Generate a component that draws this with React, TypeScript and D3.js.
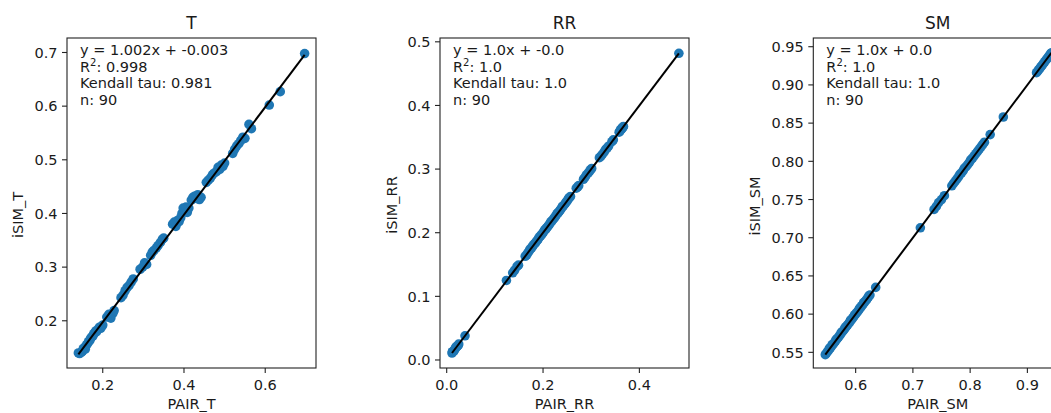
import React from 'react';
import * as d3 from 'd3';

// ---- data ----
const panelTitles = ['T', 'RR', 'SM'];
const xLabels = ['PAIR_T', 'PAIR_RR', 'PAIR_SM'];
const yLabels = ['iSIM_T', 'iSIM_RR', 'iSIM_SM'];

const pairT = [0.140, 0.143, 0.147, 0.150, 0.152, 0.155, 0.157, 0.158, 0.160, 0.163, 0.165, 0.168, 0.170, 0.173, 0.176, 0.178, 0.181, 0.183, 0.185, 0.188, 0.192, 0.195, 0.198, 0.200, 0.210, 0.215, 0.220, 0.225, 0.228, 0.245, 0.250, 0.255, 0.260, 0.265, 0.270, 0.275, 0.292, 0.298, 0.303, 0.308, 0.318, 0.322, 0.326, 0.332, 0.336, 0.342, 0.347, 0.350, 0.372, 0.376, 0.380, 0.384, 0.388, 0.392, 0.395, 0.398, 0.402, 0.405, 0.408, 0.412, 0.418, 0.422, 0.426, 0.430, 0.434, 0.438, 0.442, 0.455, 0.460, 0.465, 0.470, 0.474, 0.480, 0.484, 0.488, 0.492, 0.496, 0.500, 0.520, 0.525, 0.530, 0.535, 0.540, 0.545, 0.550, 0.560, 0.566, 0.610, 0.637, 0.697];
const isimT = [0.140, 0.139, 0.141, 0.143, 0.148, 0.150, 0.147, 0.152, 0.155, 0.158, 0.161, 0.163, 0.167, 0.170, 0.172, 0.176, 0.178, 0.181, 0.180, 0.184, 0.188, 0.186, 0.190, 0.192, 0.207, 0.212, 0.205, 0.214, 0.219, 0.243, 0.248, 0.256, 0.262, 0.266, 0.272, 0.278, 0.296, 0.300, 0.308, 0.305, 0.322, 0.328, 0.331, 0.336, 0.340, 0.346, 0.352, 0.354, 0.380, 0.384, 0.376, 0.387, 0.385, 0.392, 0.400, 0.410, 0.405, 0.412, 0.402, 0.410, 0.425, 0.430, 0.432, 0.428, 0.435, 0.426, 0.430, 0.458, 0.462, 0.466, 0.472, 0.475, 0.478, 0.486, 0.482, 0.490, 0.488, 0.494, 0.512, 0.520, 0.526, 0.530, 0.536, 0.542, 0.540, 0.566, 0.558, 0.602, 0.627, 0.698];

const pairRR = [0.011, 0.012, 0.013, 0.015, 0.016, 0.018, 0.019, 0.021, 0.022, 0.024, 0.025, 0.038, 0.124, 0.137, 0.141, 0.146, 0.149, 0.163, 0.166, 0.168, 0.171, 0.173, 0.176, 0.178, 0.180, 0.183, 0.185, 0.188, 0.190, 0.192, 0.195, 0.197, 0.199, 0.201, 0.203, 0.206, 0.208, 0.210, 0.212, 0.214, 0.216, 0.218, 0.221, 0.223, 0.225, 0.227, 0.229, 0.231, 0.234, 0.236, 0.238, 0.240, 0.242, 0.245, 0.247, 0.249, 0.251, 0.253, 0.255, 0.257, 0.269, 0.272, 0.274, 0.284, 0.287, 0.290, 0.294, 0.297, 0.299, 0.301, 0.317, 0.320, 0.323, 0.327, 0.330, 0.333, 0.336, 0.343, 0.346, 0.358, 0.360, 0.361, 0.363, 0.364, 0.365, 0.366, 0.367, 0.205, 0.232, 0.482];
const isimRR = [0.011, 0.013, 0.013, 0.014, 0.016, 0.018, 0.020, 0.021, 0.022, 0.023, 0.025, 0.038, 0.125, 0.137, 0.141, 0.147, 0.149, 0.163, 0.165, 0.168, 0.171, 0.174, 0.176, 0.178, 0.181, 0.183, 0.185, 0.188, 0.190, 0.193, 0.195, 0.197, 0.199, 0.201, 0.204, 0.206, 0.208, 0.210, 0.212, 0.214, 0.217, 0.218, 0.221, 0.223, 0.225, 0.227, 0.230, 0.231, 0.234, 0.236, 0.238, 0.241, 0.242, 0.245, 0.247, 0.249, 0.251, 0.254, 0.255, 0.257, 0.270, 0.272, 0.274, 0.284, 0.287, 0.291, 0.294, 0.297, 0.299, 0.301, 0.318, 0.320, 0.323, 0.327, 0.331, 0.333, 0.336, 0.343, 0.346, 0.358, 0.360, 0.362, 0.363, 0.364, 0.365, 0.366, 0.367, 0.205, 0.232, 0.482];

const pairSM = [0.547, 0.549, 0.551, 0.553, 0.554, 0.556, 0.558, 0.559, 0.561, 0.563, 0.565, 0.566, 0.568, 0.570, 0.572, 0.574, 0.575, 0.577, 0.579, 0.581, 0.582, 0.584, 0.586, 0.588, 0.590, 0.591, 0.593, 0.595, 0.597, 0.598, 0.600, 0.602, 0.604, 0.606, 0.607, 0.609, 0.611, 0.613, 0.614, 0.616, 0.618, 0.620, 0.622, 0.623, 0.625, 0.635, 0.713, 0.737, 0.741, 0.745, 0.750, 0.755, 0.768, 0.771, 0.774, 0.777, 0.780, 0.782, 0.785, 0.788, 0.790, 0.793, 0.796, 0.799, 0.801, 0.804, 0.807, 0.810, 0.813, 0.816, 0.819, 0.822, 0.825, 0.835, 0.858, 0.916, 0.918, 0.920, 0.922, 0.924, 0.926, 0.928, 0.930, 0.932, 0.934, 0.936, 0.938, 0.940, 0.941, 0.942];
const isimSM = [0.547, 0.549, 0.551, 0.553, 0.555, 0.556, 0.558, 0.560, 0.561, 0.563, 0.565, 0.567, 0.568, 0.570, 0.572, 0.574, 0.576, 0.577, 0.579, 0.581, 0.583, 0.584, 0.586, 0.588, 0.590, 0.592, 0.593, 0.595, 0.597, 0.599, 0.600, 0.602, 0.604, 0.606, 0.608, 0.609, 0.611, 0.613, 0.615, 0.616, 0.618, 0.620, 0.622, 0.624, 0.625, 0.635, 0.713, 0.737, 0.741, 0.746, 0.750, 0.755, 0.768, 0.771, 0.774, 0.777, 0.780, 0.783, 0.785, 0.788, 0.791, 0.793, 0.796, 0.799, 0.802, 0.804, 0.807, 0.810, 0.813, 0.816, 0.819, 0.822, 0.825, 0.835, 0.858, 0.916, 0.918, 0.920, 0.922, 0.924, 0.926, 0.928, 0.930, 0.932, 0.934, 0.936, 0.938, 0.940, 0.941, 0.942];

const fitSlope = [1.002, 1.0, 1.0];
const fitIntercept = [-0.003, 0.0, 0.0];
const fitLines = ['y = 1.002x + -0.003', 'y = 1.0x + -0.0', 'y = 1.0x + 0.0'];
const r2Values = ['0.998', '1.0', '1.0'];
const tauValues = ['0.981', '1.0', '1.0'];
const nValues = ['90', '90', '90'];

const xDomains = [[0.112, 0.725], [-0.0139, 0.503], [0.526, 0.961]];
const yDomains = [[0.112, 0.727], [-0.0126, 0.506], [0.5295, 0.9614]];
const xTicks = [[0.2, 0.4, 0.6], [0.0, 0.2, 0.4], [0.6, 0.7, 0.8, 0.9]];
const yTicks = [
  [0.2, 0.3, 0.4, 0.5, 0.6, 0.7],
  [0.0, 0.1, 0.2, 0.3, 0.4, 0.5],
  [0.55, 0.6, 0.65, 0.7, 0.75, 0.8, 0.85, 0.9, 0.95],
];
const yTickDigits = [1, 1, 2];

const xsAll = [pairT, pairRR, pairSM];
const ysAll = [isimT, isimRR, isimSM];

// ---- layout ----
const W = 1051;
const H = 413;
const panelLeft = [67, 440, 813.3];
const panelTop = 38;
const panelW = 249;
const panelH = 330;
const yLabelOffset = [44, 43, 53];
const yLabelCenter = [215, 205, 206];
const FONT = 'DejaVu Sans, sans-serif';
const FS = 14.5;
const BLUE = '#1f77b4';

const Panel = ({ i }: { i: number }) => {
  const left = panelLeft[i];
  const bottom = panelTop + panelH;
  const x = d3.scaleLinear().domain(xDomains[i]).range([left, left + panelW]);
  const y = d3.scaleLinear().domain(yDomains[i]).range([bottom, panelTop]);
  const xs = xsAll[i];
  const ys = ysAll[i];
  const [xmin, xmax] = d3.extent(xs) as [number, number];
  const fit = d3.line<number>()
    .x(d => x(d))
    .y(d => y(fitSlope[i] * d + fitIntercept[i]));
  const clipId = `clip-${i}`;
  const tx = left + 13;

  return (
    <g fontFamily={FONT} fill="#1a1a1a">
      <defs>
        <clipPath id={clipId}>
          <rect x={left} y={panelTop} width={panelW} height={panelH} />
        </clipPath>
      </defs>

      {/* points + fit */}
      <g clipPath={`url(#${clipId})`}>
        {xs.map((d, k) => (
          <circle key={k} cx={x(d)} cy={y(ys[k])} r={4.8} fill={BLUE} />
        ))}
        <path d={fit([xmin, xmax]) || ''} stroke="#000" strokeWidth={2} fill="none" />
      </g>

      {/* frame */}
      <rect x={left} y={panelTop} width={panelW} height={panelH} fill="none" stroke="#222" strokeWidth={1.1} />

      {/* x ticks */}
      {xTicks[i].map(t => (
        <g key={`x${t}`}>
          <line x1={x(t)} x2={x(t)} y1={bottom} y2={bottom + 5} stroke="#222" strokeWidth={1.1} />
          <text x={x(t)} y={bottom + 22} fontSize={FS} textAnchor="middle">{t.toFixed(1)}</text>
        </g>
      ))}

      {/* y ticks */}
      {yTicks[i].map(t => (
        <g key={`y${t}`}>
          <line x1={left - 5} x2={left} y1={y(t)} y2={y(t)} stroke="#222" strokeWidth={1.1} />
          <text x={left - 9.5} y={y(t)} dy="0.36em" fontSize={FS} textAnchor="end">{t.toFixed(yTickDigits[i])}</text>
        </g>
      ))}

      {/* labels */}
      <text x={left + panelW / 2} y={panelTop - 9} fontSize={17} textAnchor="middle">{panelTitles[i]}</text>
      <text x={left + panelW / 2} y={bottom + 40.5} fontSize={FS} textAnchor="middle">{xLabels[i]}</text>
      <text transform={`translate(${left - yLabelOffset[i]},${yLabelCenter[i]}) rotate(-90)`} fontSize={FS} textAnchor="middle">{yLabels[i]}</text>

      {/* stats */}
      <g fontSize={FS}>
        <text x={tx} y={panelTop + 17}>{fitLines[i]}</text>
        <text x={tx} y={panelTop + 33.5}>
          R<tspan fontSize={10} dy={-5.5}>2</tspan><tspan dy={5.5}>: {r2Values[i]}</tspan>
        </text>
        <text x={tx} y={panelTop + 50}>Kendall tau: {tauValues[i]}</text>
        <text x={tx} y={panelTop + 66.5}>n: {nValues[i]}</text>
      </g>
    </g>
  );
};

export default function App() {
  return (
    <div style={{ position: 'absolute', left: 0, top: 0 }}>
      <svg width={W} height={H} style={{ display: 'block', background: '#fff' }}>
        {panelTitles.map((_, i) => <Panel key={i} i={i} />)}
      </svg>
    </div>
  );
}
